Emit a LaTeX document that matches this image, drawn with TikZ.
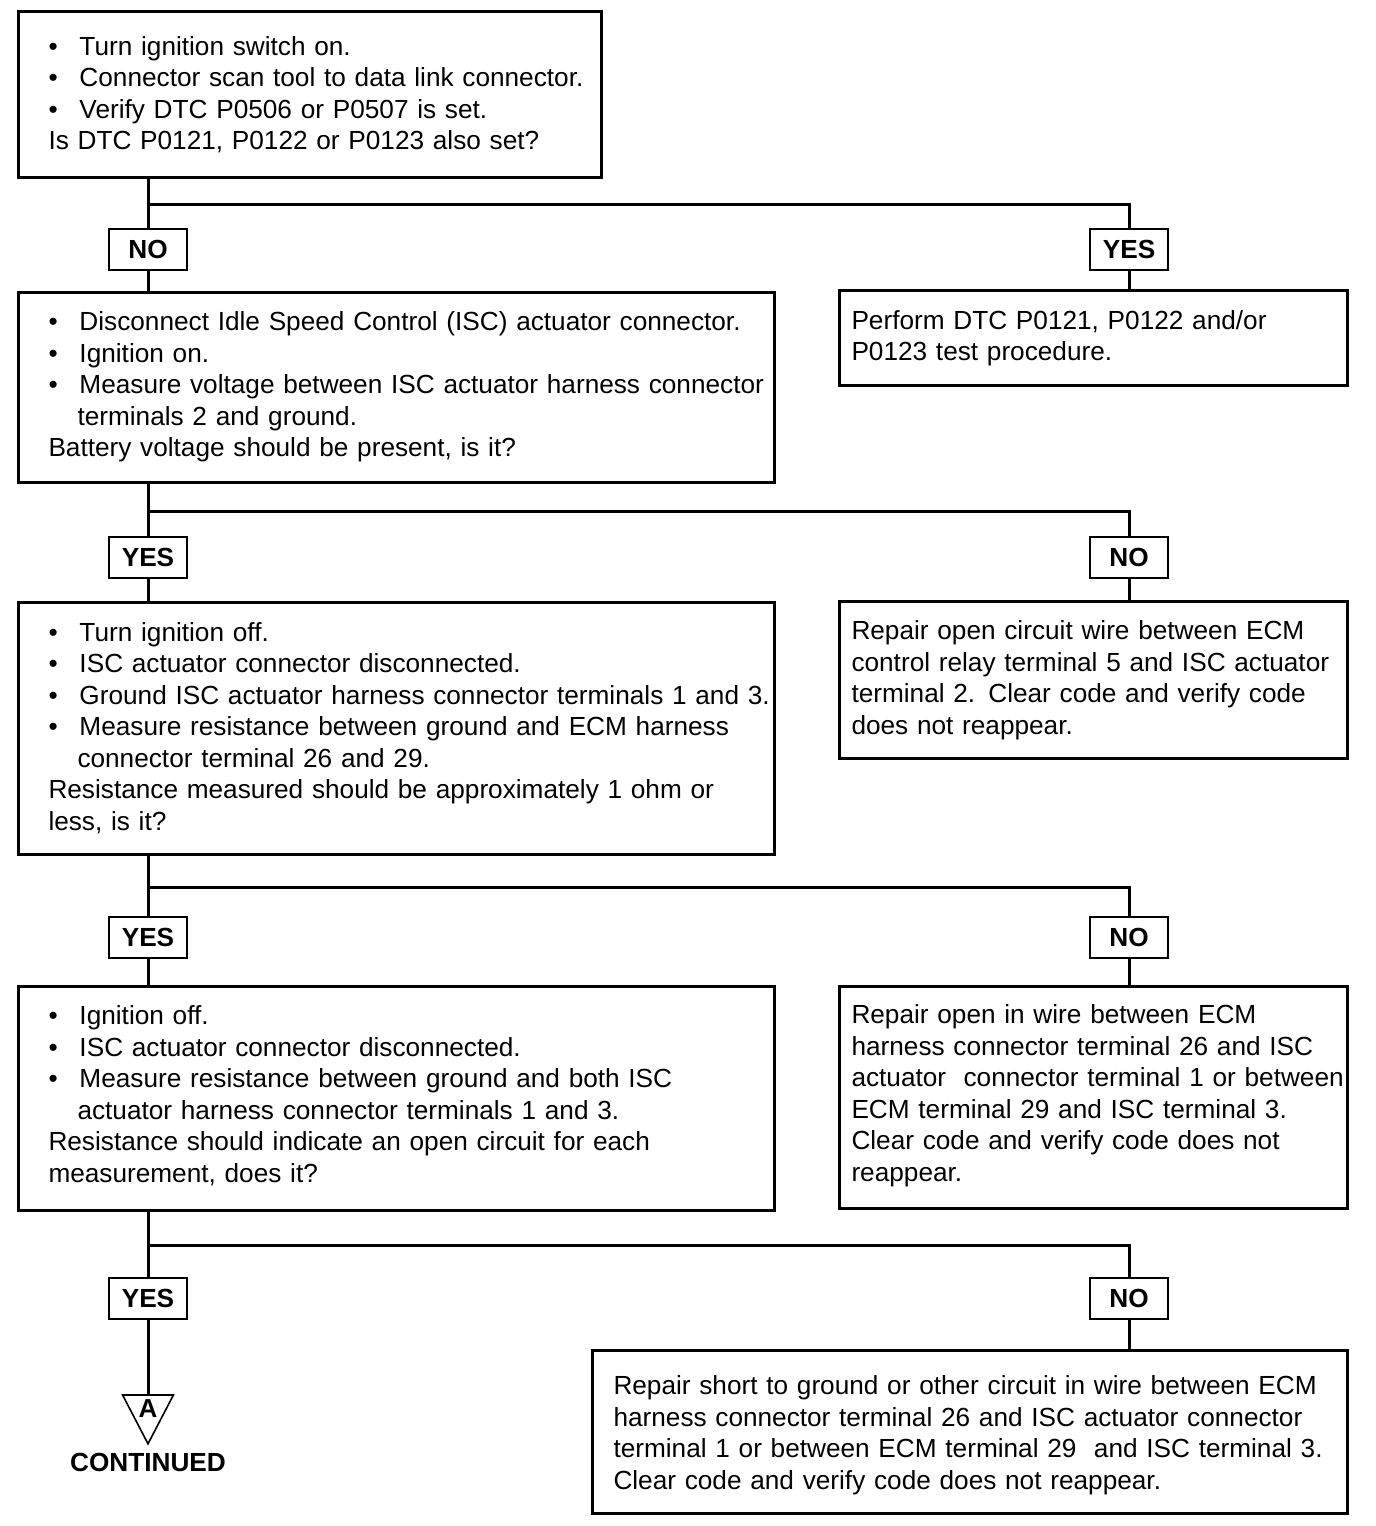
\documentclass[tikz,border=0pt]{standalone}
\usepackage{fontspec}
\setmainfont{Liberation Sans}
\newcommand\bodyf{\fontsize{13.1pt}{15.75pt}\selectfont}
\newcommand\bl[1]{\par\noindent\hbox{\hbox to 15.5pt{\textbullet\hss}#1}}
\newcommand\cl[1]{\par\noindent\hbox{\hspace*{14.5pt}#1}}
\newcommand\pl[1]{\par\noindent\hbox{#1}}
\newcommand\lift[1]{\par\kern#1}
\begin{document}
\begin{tikzpicture}[x=0.5pt,y=-0.5pt,
  box/.style={draw, line width=1.5pt, anchor=north west, inner ysep=0pt, align=left, font=\bodyf},
  lab/.style={draw, line width=1pt, minimum width=39pt, minimum height=20.5pt, inner sep=0pt, font=\bodyf\bfseries},
  wire/.style={line width=1.5pt}]
\useasboundingbox (0,0) rectangle (1376,1526);

% main column boxes
\node[box, inner xsep=15pt, text width=261.5pt, minimum height=83pt] (b1) at (17,10) {%
\bl{Turn ignition switch on.}%
\bl{Connector scan tool to data link connector.}%
\bl{Verify DTC P0506 or P0507 is set.}%
\pl{Is DTC P0121, P0122 or P0123 also set?}\lift{6pt}};

\node[box, inner xsep=15pt, text width=348pt, minimum height=95pt] (b2) at (17,291) {%
\bl{Disconnect Idle Speed Control (ISC) actuator connector.}%
\bl{Ignition on.}%
\bl{Measure voltage between ISC actuator harness connector}%
\cl{terminals 2 and ground.}%
\pl{Battery voltage should be present, is it?}\lift{7pt}};

\node[box, inner xsep=15pt, text width=348pt, minimum height=126pt] (b3) at (17,601) {%
\bl{Turn ignition off.}%
\bl{ISC actuator connector disconnected.}%
\bl{Ground ISC actuator harness connector terminals 1 and 3.}%
\bl{Measure resistance between ground and ECM harness}%
\cl{connector terminal 26 and 29.}%
\pl{Resistance measured should be approximately 1 ohm or}%
\pl{less, is it?}\lift{7pt}};

\node[box, inner xsep=15pt, text width=348pt, minimum height=112pt] (b4) at (17,985) {%
\bl{Ignition off.}%
\bl{ISC actuator connector disconnected.}%
\bl{Measure resistance between ground and both ISC}%
\cl{actuator harness connector terminals 1 and 3.}%
\pl{Resistance should indicate an open circuit for each}%
\pl{measurement, does it?}\lift{9pt}};

% right column boxes
\node[box, inner xsep=6pt, text width=242pt, minimum height=47.5pt] (r1) at (838,289) {%
\pl{Perform DTC P0121, P0122 and/or}%
\pl{P0123 test procedure.}\lift{6pt}};

\node[box, inner xsep=6pt, text width=242pt, minimum height=78.5pt] (r2) at (838,600) {%
\pl{Repair open circuit wire between ECM}%
\pl{control relay terminal 5 and ISC actuator}%
\pl{terminal 2. Clear code and verify code}%
\pl{does not reappear.}\lift{6pt}};

\node[box, inner xsep=6pt, text width=242pt, minimum height=111pt] (r3) at (838,985) {%
\pl{Repair open in wire between ECM}%
\pl{harness connector terminal 26 and ISC}%
\pl{actuator\ \ connector terminal 1 or between}%
\pl{ECM terminal 29 and ISC terminal 3.}%
\pl{Clear code and verify code does not}%
\pl{reappear.}\lift{8pt}};

\node[box, inner xsep=10.5pt, text width=356.5pt, minimum height=81.5pt] (r4) at (591,1349) {%
\pl{Repair short to ground or other circuit in wire between ECM}%
\pl{harness connector terminal 26 and ISC actuator connector}%
\pl{terminal 1 or between ECM terminal 29\ \ and ISC terminal 3.}%
\pl{Clear code and verify code does not reappear.}\lift{3pt}};

% labels
\node[lab] (n1) at (148,249.5) {NO};
\node[lab] (y1) at (1129,249) {YES};
\node[lab] (y2) at (148,557) {YES};
\node[lab] (n2) at (1129,557) {NO};
\node[lab] (y3) at (148,937) {YES};
\node[lab] (n3) at (1129,937) {NO};
\node[lab] (y4) at (148,1298) {YES};
\node[lab] (n4) at (1129,1298) {NO};

% continuation marker
\node[inner sep=0pt, minimum width=25pt, minimum height=24pt, anchor=north] (tri) at (148,1395) {};
\draw[line width=0.8pt] (tri.north west) -- (tri.north east) -- (tri.south) -- cycle;
\node[font=\fontsize{13pt}{14pt}\selectfont\bfseries, inner sep=0pt] (ta) at (148,1409) {A};
\node[font=\bodyf\bfseries, inner sep=0pt] (cont) at (148,1462) {CONTINUED};

% junctions
\coordinate (j1) at (148,204);  \coordinate (k1) at (1129,204);
\coordinate (j2) at (148,511);  \coordinate (k2) at (1129,511);
\coordinate (j3) at (148,887);  \coordinate (k3) at (1129,887);
\coordinate (j4) at (148,1245); \coordinate (k4) at (1129,1245);

% connectors
\draw[wire] (b1.south -| n1) -- (n1.north);
\draw[wire] (j1) -- (k1) -- (y1.north);
\draw[wire] (n1.south) -- (b2.north -| n1);
\draw[wire] (y1.south) -- (r1.north -| y1);

\draw[wire] (b2.south -| y2) -- (y2.north);
\draw[wire] (j2) -- (k2) -- (n2.north);
\draw[wire] (y2.south) -- (b3.north -| y2);
\draw[wire] (n2.south) -- (r2.north -| n2);

\draw[wire] (b3.south -| y3) -- (y3.north);
\draw[wire] (j3) -- (k3) -- (n3.north);
\draw[wire] (y3.south) -- (b4.north -| y3);
\draw[wire] (n3.south) -- (r3.north -| n3);

\draw[wire] (b4.south -| y4) -- (y4.north);
\draw[wire] (j4) -- (k4) -- (n4.north);
\draw[wire] (y4.south) -- (tri.north);
\draw[wire] (n4.south) -- (r4.north -| n4);
\end{tikzpicture}
\end{document}
